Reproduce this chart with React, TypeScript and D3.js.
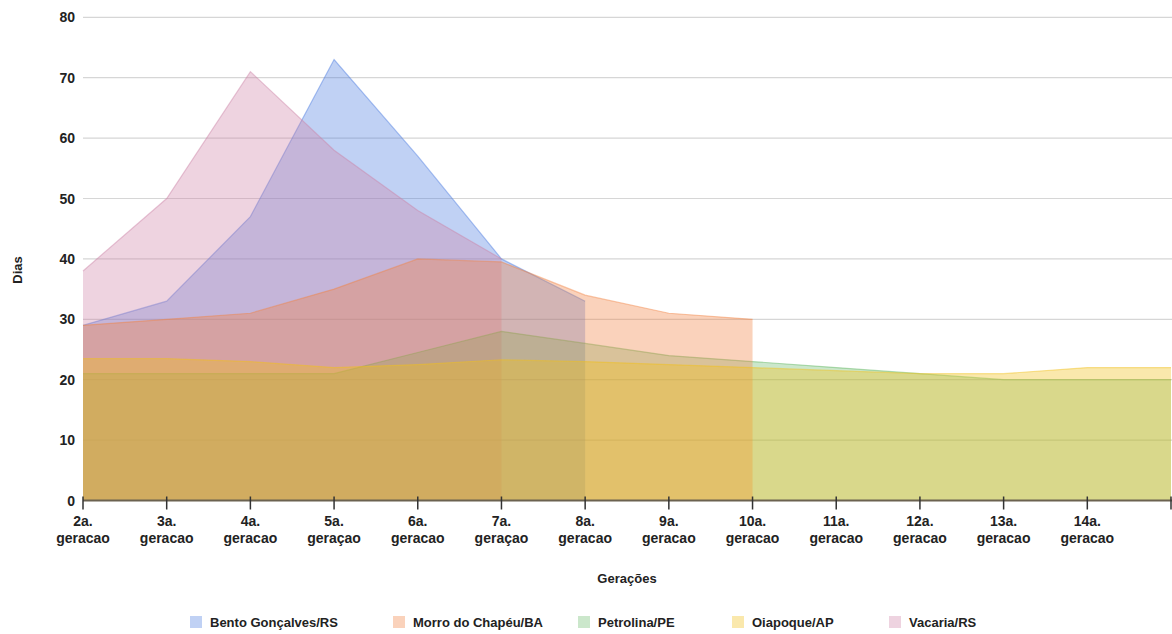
import React, { useEffect, useRef } from "react";
import * as d3 from "d3";

// generation labels (x axis); the last one sits on the right edge and is not drawn
const generations = [
  "2a. geracao", "3a. geracao", "4a. geracao", "5a. geraçao", "6a. geracao",
  "7a. geraçao", "8a. geracao", "9a. geracao", "10a. geracao", "11a. geracao",
  "12a. geracao", "13a. geracao", "14a. geracao", "15a. geracao",
];

const yTicks = [0, 10, 20, 30, 40, 50, 60, 70, 80];

// days per generation, null = no data
const bento = [29, 33, 47, 73, 57, 40, 33, null, null, null, null, null, null, null];
const morro = [29, 30, 31, 35, 40, 39.5, 34, 31, 30, null, null, null, null, null];
const petrolina = [21, 21, 21, 21, 24.5, 28, 26, 24, 23, 22, 21, 20, 20, 20];
const oiapoque = [23.5, 23.5, 23, 22, 22.5, 23.3, 23, 22.5, 22, 21.5, 21, 21, 22, 22];
const vacaria = [38, 50, 71, 58, 48, 40, null, null, null, null, null, null, null, null];

const seriesNames = ["Bento Gonçalves/RS", "Morro do Chapéu/BA", "Petrolina/PE", "Oiapoque/AP", "Vacaria/RS"];
const seriesColors = ["#4a7be0", "#f28243", "#5cb45c", "#f2c01a", "#cd82a7"];
const seriesOpacity = [0.35, 0.36, 0.32, 0.36, 0.35];

const W = 1172;
const H = 634;
const FONT = "'Liberation Sans', Arial, sans-serif";

export default function App() {
  const ref = useRef<SVGSVGElement>(null);

  useEffect(() => {
    const svg = d3.select(ref.current);
    svg.selectAll("*").remove();

    const x = d3.scalePoint<string>().domain(generations).range([83, 1171]);
    const y = d3.scaleLinear().domain([0, 80]).range([500.5, 17.3]);

    const series = [bento, morro, petrolina, oiapoque, vacaria];
    // cool colours underneath, warm ones on top
    const drawOrder = [0, 4, 2, 1, 3];

    // grid
    svg.append("g")
      .selectAll("line")
      .data(yTicks.filter((d) => d > 0))
      .enter()
      .append("line")
      .attr("x1", 83)
      .attr("x2", W)
      .attr("y1", (d) => y(d))
      .attr("y2", (d) => y(d))
      .attr("stroke", "#d6d6d6")
      .attr("stroke-width", 1.2);

    // y labels
    svg.append("g")
      .selectAll("text")
      .data(yTicks)
      .enter()
      .append("text")
      .attr("x", 75)
      .attr("y", (d) => y(d) + 5)
      .attr("text-anchor", "end")
      .attr("font-family", FONT)
      .attr("font-weight", "bold")
      .attr("font-size", 14)
      .attr("fill", "#222")
      .text((d) => d);

    // areas
    const area = d3
      .area<number | null>()
      .defined((d) => d != null)
      .x((_, i) => x(generations[i]) as number)
      .y0(y(0))
      .y1((d) => y(d as number));
    const line = d3
      .line<number | null>()
      .defined((d) => d != null)
      .x((_, i) => x(generations[i]) as number)
      .y((d) => y(d as number));

    drawOrder.forEach((i) => {
      const s = series[i];
      svg.append("path")
        .attr("d", area(s))
        .attr("fill", seriesColors[i])
        .attr("fill-opacity", seriesOpacity[i]);
      svg.append("path")
        .attr("d", line(s))
        .attr("fill", "none")
        .attr("stroke", seriesColors[i])
        .attr("stroke-opacity", 0.45)
        .attr("stroke-width", 1.2);
    });

    // x axis
    svg.append("line")
      .attr("x1", 83)
      .attr("x2", W)
      .attr("y1", y(0))
      .attr("y2", y(0))
      .attr("stroke", "#6b6250")
      .attr("stroke-width", 2);

    const xg = svg.append("g");
    generations.forEach((g, i) => {
      const px = x(g) as number;
      xg.append("line")
        .attr("x1", px)
        .attr("x2", px)
        .attr("y1", y(0) - 4)
        .attr("y2", y(0) + 9)
        .attr("stroke", "#333")
        .attr("stroke-width", 1.5);
      if (i === generations.length - 1) return;
      const [a, b] = g.split(" ");
      const t = xg.append("text")
        .attr("text-anchor", "middle")
        .attr("font-family", FONT)
        .attr("font-weight", "bold")
        .attr("font-size", 14)
        .attr("fill", "#222");
      t.append("tspan").attr("x", px).attr("y", 526).text(a);
      t.append("tspan").attr("x", px).attr("y", 543).text(b);
    });

    // axis titles
    svg.append("text")
      .attr("x", 627)
      .attr("y", 583)
      .attr("text-anchor", "middle")
      .attr("font-family", FONT)
      .attr("font-weight", "bold")
      .attr("font-size", 13)
      .attr("fill", "#222")
      .text("Gerações");

    svg.append("text")
      .attr("transform", "translate(22,270) rotate(-90)")
      .attr("text-anchor", "middle")
      .attr("font-family", FONT)
      .attr("font-weight", "bold")
      .attr("font-size", 13)
      .attr("fill", "#222")
      .text("Dias");

    // legend
    const legendX = [190, 393, 578, 732, 889];
    const lg = svg.append("g");
    seriesNames.forEach((n, i) => {
      lg.append("rect")
        .attr("x", legendX[i])
        .attr("y", 616)
        .attr("width", 12)
        .attr("height", 12)
        .attr("fill", seriesColors[i])
        .attr("fill-opacity", seriesOpacity[i]);
      lg.append("text")
        .attr("x", legendX[i] + 20)
        .attr("y", 627)
        .attr("font-family", FONT)
        .attr("font-weight", "bold")
        .attr("font-size", 13)
        .attr("fill", "#222")
        .text(n);
    });
  }, []);

  return (
    <svg
      ref={ref}
      width={W}
      height={H}
      style={{ position: "absolute", left: 0, top: 0, background: "#fff" }}
    />
  );
}
